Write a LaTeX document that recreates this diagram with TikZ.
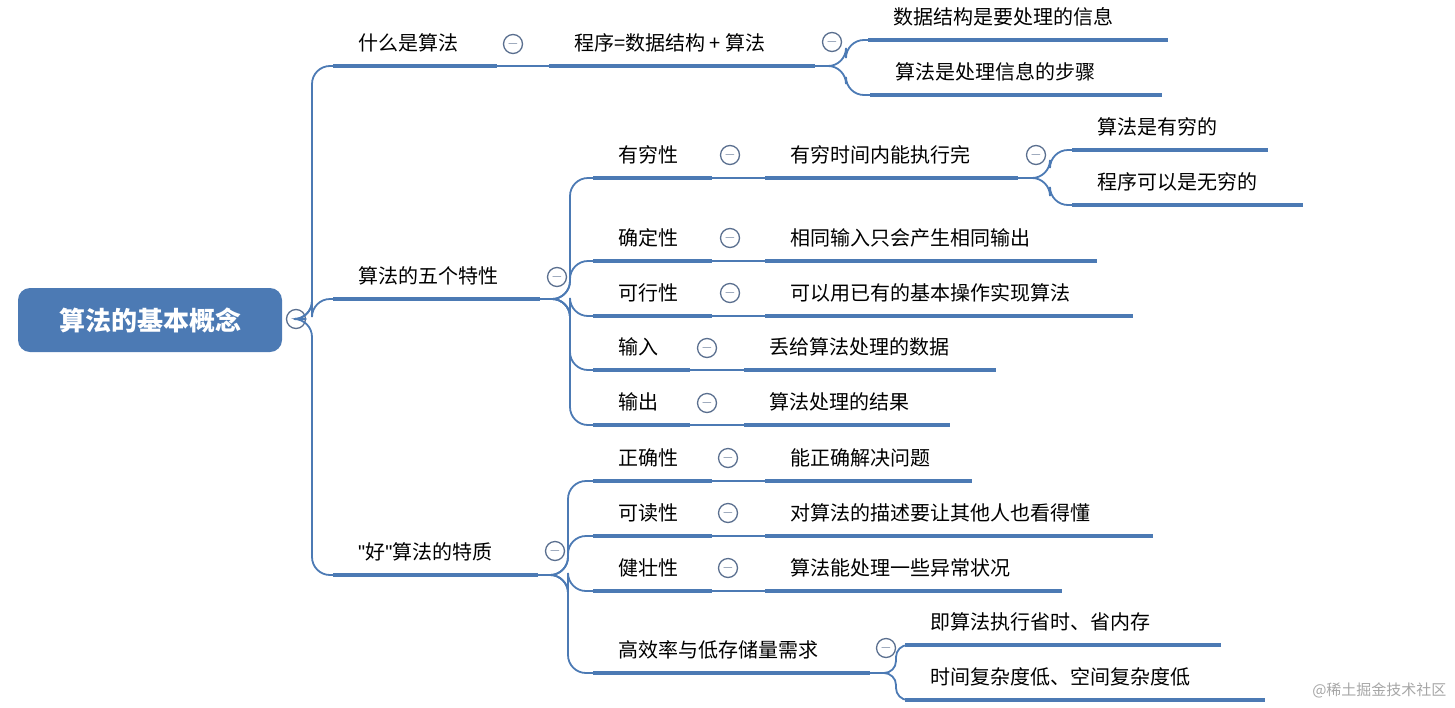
\documentclass[tikz,border=0pt]{standalone}
\usepackage{fontspec}
\setmainfont{Noto Sans CJK SC}
\newfontfamily\lat{Liberation Sans}
\definecolor{ln}{HTML}{4C7AB4}
\definecolor{cl}{HTML}{5A6F8F}
\begin{document}
\begin{tikzpicture}[x=1pt,y=-1pt,
  ul/.style={ln,line width=4pt},
  cn/.style={ln,line width=1.8pt,rounded corners=18pt},
  lab/.style={anchor=west,font=\fontsize{20}{21}\selectfont,inner sep=0pt},
  mc/.style={circle,draw=cl,line width=1.3pt,minimum size=19pt,inner sep=0pt,fill=white,font=\fontsize{14}{14}\selectfont,text=cl}]
\useasboundingbox (0,0) rectangle (1455,707);
\newcommand\br[5]{%
  \draw[ul] (#2,#4) coordinate (#1s) -- (#3,#4) coordinate (#1e);
  \node[lab] (#1t) at (#2+25,#4-23) {#5};}
\newcommand\mn[3]{\node[mc] (#1) at (#2,#3) {$-$};}
% root
\node[fill=ln,rounded corners=12pt,minimum width=264pt,minimum height=64pt,text=white,font=\fontsize{26}{28}\bfseries\selectfont] (root) at (150,320) {算法的基本概念};
\mn{m0}{296}{319}
% level 1
\br{a}{333}{497}{66}{什么是算法}
\br{b}{333}{540}{299}{算法的五个特性}
\br{c}{333}{538}{575}{{\lat\char34}好{\lat\char34}算法的特质}
\foreach \n in {as,bs,cs} \draw[cn] (m0.east) -- (312,319) |- (\n);
% 什么是算法
\mn{m1}{513}{44}
\br{a1}{549}{815}{66}{程序=数据结构 + 算法}
\draw[ln,line width=1.8pt] (ae) -- (a1s);
\mn{m2}{832}{42}
\br{a11}{868}{1168}{40}{数据结构是要处理的信息}
\br{a12}{870}{1162}{95}{算法是处理信息的步骤}
\foreach \n in {a11s,a12s} \draw[cn] (a1e) -- (846,66) |- (\n);
% 五个特性
\mn{m3}{557}{277}
\br{b1}{593}{712}{178}{有穷性}
\br{b2}{593}{712}{261}{确定性}
\br{b3}{593}{712}{316}{可行性}
\br{b4}{593}{690}{370}{输入}
\br{b5}{593}{690}{425}{输出}
\foreach \n in {b1s,b2s,b3s,b4s,b5s} \draw[cn] (be) -- (570,299) |- (\n);
\mn{m4}{730}{155}\mn{m5}{730}{238}\mn{m6}{730}{293}\mn{m7}{707}{348}\mn{m8}{707}{403}
\br{b11}{765}{1018}{178}{有穷时间内能执行完}
\br{b21}{765}{1097}{261}{相同输入只会产生相同输出}
\br{b31}{765}{1133}{316}{可以用已有的基本操作实现算法}
\br{b41}{744}{996}{370}{丢给算法处理的数据}
\br{b51}{744}{950}{425}{算法处理的结果}
\foreach \p in {b1,b2,b3,b4,b5} \draw[ln,line width=1.8pt] (\p e) -- (\p 1s);
\mn{m9}{1036}{155}
\br{b111}{1072}{1268}{150}{算法是有穷的}
\br{b112}{1072}{1303}{205}{程序可以是无穷的}
\foreach \n in {b111s,b112s} \draw[cn] (b11e) -- (1050,178) |- (\n);
% 好算法
\mn{m10}{555}{551}
\br{c1}{593}{712}{481}{正确性}
\br{c2}{593}{712}{536}{可读性}
\br{c3}{593}{712}{591}{健壮性}
\br{c4}{593}{870}{673}{高效率与低存储量需求}
\foreach \n in {c1s,c2s,c3s,c4s} \draw[cn] (ce) -- (568,575) |- (\n);
\mn{m11}{728}{458}\mn{m12}{728}{513}\mn{m13}{728}{568}
\br{c11}{765}{972}{481}{能正确解决问题}
\br{c21}{765}{1153}{536}{对算法的描述要让其他人也看得懂}
\br{c31}{765}{1062}{591}{算法能处理一些异常状况}
\foreach \p in {c1,c2,c3} \draw[ln,line width=1.8pt] (\p e) -- (\p 1s);
\mn{m14}{886}{648}
\br{c41}{905}{1221}{645}{即算法执行省时、省内存}
\br{c42}{905}{1265}{700}{时间复杂度低、空间复杂度低}
\foreach \n in {c41s,c42s} \draw[cn,rounded corners=12pt] (c4e) -- (896,673) |- (\n);
\node[anchor=east,text=gray!70,font=\fontsize{15}{16}\selectfont] (wm) at (1450,690) {@稀土掘金技术社区};
\end{tikzpicture}
\end{document}
